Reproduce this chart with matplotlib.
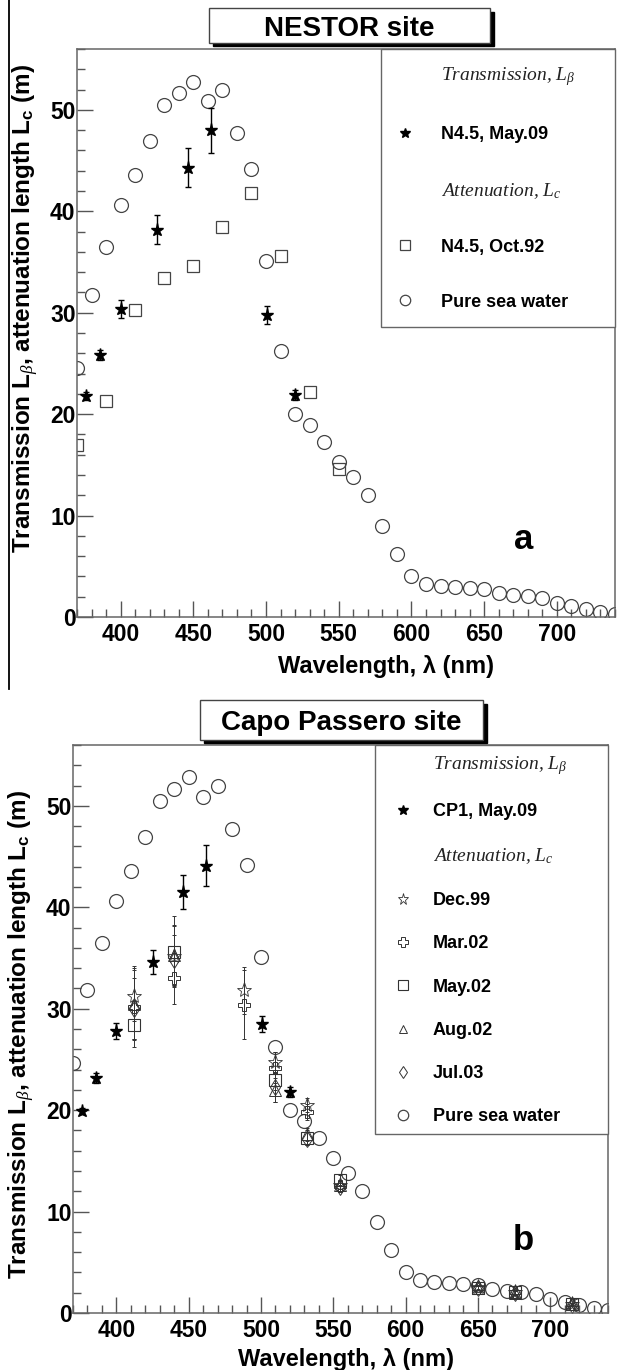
import matplotlib
matplotlib.use("Agg")
import matplotlib.pyplot as plt
from matplotlib.lines import Line2D
from matplotlib.patches import Rectangle
from matplotlib.ticker import MultipleLocator

plt.rcParams['font.family'] = ['Liberation Sans', 'DejaVu Sans']
plt.rcParams['font.weight'] = 'bold'
plt.rcParams['mathtext.fontset'] = 'custom'
plt.rcParams['mathtext.rm'] = 'Liberation Sans:bold'
plt.rcParams['mathtext.bf'] = 'Liberation Sans:bold'
plt.rcParams['mathtext.it'] = 'Liberation Serif:style=italic:weight=normal'

# pure sea water attenuation length
sea_wl = [370, 380, 390, 400, 410, 420, 430, 440, 450, 460, 470, 480, 490,
          500, 510, 520, 530, 540, 550, 560, 570, 580, 590, 600, 610, 620,
          630, 640, 650, 660, 670, 680, 690, 700, 710, 720, 730, 740]
sea_L = [24.6, 31.8, 36.5, 40.6, 43.6, 46.9, 50.5, 51.7, 52.8, 50.9, 52.0, 47.7, 44.2,
         35.1, 26.2, 20.0, 18.9, 17.3, 15.3, 13.8, 12.0, 9.0, 6.2, 4.0, 3.3, 3.1,
         3.0, 2.9, 2.8, 2.4, 2.2, 2.1, 1.9, 1.4, 1.1, 0.8, 0.5, 0.3]

# transmission length, LED wavelengths
trans_wl = [376, 386, 400, 425, 446, 462, 501, 520]
n45_L = [21.8, 25.8, 30.4, 38.2, 44.3, 48.0, 29.8, 21.9]
n45_err = [0.4, 0.5, 0.9, 1.4, 1.9, 2.2, 0.9, 0.5]
cp1_L = [19.9, 23.2, 27.8, 34.6, 41.5, 44.1, 28.5, 21.8]
cp1_err = [0.3, 0.5, 0.8, 1.2, 1.7, 2.0, 0.8, 0.5]

# NESTOR attenuation Oct.92
oct92_wl = [370, 390, 410, 430, 450, 470, 490, 510, 530, 550]
oct92_L = [17.0, 21.3, 30.3, 33.4, 34.6, 38.5, 41.8, 35.6, 22.2, 14.6]

# Capo Passero attenuation (AC9 wavelengths)
ac9_wl = [412, 440, 488, 510, 532, 555, 650, 676, 715]
ac9_wl_short = [412, 440, 510, 532, 555, 650, 676, 715]
dec99_L = [31.3, 35.2, 31.8, 24.7, 20.5, 12.6, 2.6, 2.1, 0.9]
dec99_err = [2.5, 3.0, 2.3, 1.0, 0.7, 0.4, 0.2, 0.2, 0.1]
mar02_L = [30.2, 33.0, 30.4, 24.2, 19.8, 12.5, 2.5, 2.1, 0.9]
mar02_err = [4.0, 2.5, 3.4, 1.5, 0.8, 0.5, 0.2, 0.2, 0.1]
may02_L = [28.4, 35.6, 23.0, 17.3, 13.1, 2.5, 2.1, 0.9]
may02_err = [1.5, 3.5, 1.0, 0.7, 0.5, 0.2, 0.2, 0.1]
aug02_L = [30.5, 35.3, 22.0, 17.6, 12.6, 2.5, 2.0, 0.9]
aug02_err = [3.5, 3.0, 1.2, 0.6, 0.4, 0.2, 0.2, 0.1]
jul03_L = [30.0, 34.8, 22.3, 17.2, 12.4, 2.5, 2.0, 0.8]
jul03_err = [3.0, 2.5, 1.5, 0.6, 0.4, 0.2, 0.2, 0.1]

xticks = [400, 450, 500, 550, 600, 650, 700]
yticks = [0, 10, 20, 30, 40, 50]

INK = '#333333'
FRAME = '#666666'

STAR = dict(marker='*', ms=9.5, color='black', mec='black')
CIRC = dict(marker='o', ms=10, mfc='none', mec='#444444', mew=0.9)
SQR = dict(marker='s', ms=9, mfc='none', mec='#444444', mew=0.9)
OSTAR = dict(marker='*', ms=11, mfc='none', mec=INK, mew=0.6)
OCROSS = dict(marker='P', ms=9, mfc='none', mec=INK, mew=0.7)
OSQR = dict(marker='s', ms=9, mfc='none', mec=INK, mew=0.8)
OTRI = dict(marker='^', ms=8, mfc='none', mec=INK, mew=0.7)
ODIA = dict(marker='d', ms=8, mfc='none', mec=INK, mew=0.7)

HEAD_T = r'Transmission, $\mathit{L_{\beta}}$'
HEAD_A = r'Attenuation, $\mathit{L_{c}}$'


def style_axes(ax):
    ax.set_xlim(370, 740)
    ax.set_ylim(0, 56)
    ax.set_xticks(xticks)
    ax.set_yticks(yticks)
    ax.xaxis.set_minor_locator(MultipleLocator(10))
    ax.yaxis.set_minor_locator(MultipleLocator(2))
    ax.tick_params(which='both', direction='in', color='#555555', width=1,
                   top=False, right=False)
    ax.tick_params(which='major', length=11.5, labelsize=16.5)
    ax.tick_params(which='minor', length=6)
    ax.tick_params(axis='y', pad=1)
    ax.tick_params(axis='x', pad=4)
    for s in ax.spines.values():
        s.set_color(FRAME)
        s.set_linewidth(1.1)


def add_title_box(ax, text, x0, x1, y0, y1):
    ax.add_patch(Rectangle((x0 + 0.007, y0 - 0.006), x1 - x0, y1 - y0,
                           transform=ax.transAxes, color='black',
                           clip_on=False, zorder=5))
    ax.add_patch(Rectangle((x0, y0), x1 - x0, y1 - y0, transform=ax.transAxes,
                           facecolor='white', edgecolor='#444444', lw=1,
                           clip_on=False, zorder=6))
    ax.text((x0 + x1) / 2, (y0 + y1) / 2, text, transform=ax.transAxes,
            ha='center', va='center_baseline', fontsize=20, fontweight='bold',
            zorder=7)


def add_legend(ax, entries, spacing, pad, hlen, tpad):
    handles = []
    labels = []
    for label, style in entries:
        if style is None:
            handles.append(Line2D([], [], linestyle='none', marker=''))
        else:
            handles.append(Line2D([], [], linestyle='none', **style))
        labels.append(label)
    leg = ax.legend(handles, labels, loc='upper left',
                    bbox_to_anchor=(0.565, 0, 0.435, 1), mode='expand',
                    borderaxespad=0, fancybox=False, framealpha=1,
                    edgecolor=FRAME, fontsize=13, labelspacing=spacing,
                    borderpad=pad, handlelength=hlen, handletextpad=tpad,
                    markerscale=0.75)
    leg.get_frame().set_linewidth(1.0)
    for t, (label, style) in zip(leg.get_texts(), entries):
        if style is None:
            t.set_color('#222222')
            t.set_fontsize(14)
            t.set_family('Liberation Serif')
            t.set_style('italic')
            t.set_weight('normal')


fig = plt.figure(figsize=(6.17, 13.7), dpi=100)

# left border line of the page
fig.add_artist(Line2D([0.0146, 0.0146], [0.497, 1.0], transform=fig.transFigure,
                      color='black', lw=1.3))

# ---------------- panel a : NESTOR ----------------
ax1 = fig.add_axes([0.1248, 0.5496, 0.8720, 0.4146])
style_axes(ax1)
ax1.plot(sea_wl, sea_L, linestyle='none', **CIRC)
ax1.plot(oct92_wl, oct92_L, linestyle='none', **SQR)
ax1.errorbar(trans_wl, n45_L, yerr=n45_err, fmt='none', ecolor='black',
             elinewidth=1, capsize=2)
ax1.plot(trans_wl, n45_L, linestyle='none', **STAR)

ax1.set_xlabel(r'Wavelength, λ (nm)', fontsize=17, fontweight='bold')
ax1.xaxis.set_label_coords(0.574, -0.067)
ax1.set_ylabel(r'Transmission L$_{\beta}$, attenuation length L$_{\mathrm{c}}$ (m)',
               fontsize=17.5, fontweight='bold')
ax1.yaxis.set_label_coords(-0.069, 0.544)
ax1.text(0.83, 0.137, 'a', transform=ax1.transAxes, fontsize=25,
         fontweight='bold', ha='center', va='center')
add_title_box(ax1, 'NESTOR site', 0.245, 0.768, 1.0106, 1.072)
add_legend(ax1, [(HEAD_T, None),
                 ('N4.5, May.09', STAR),
                 (HEAD_A, None),
                 ('N4.5, Oct.92', SQR),
                 ('Pure sea water', CIRC)],
           spacing=2.1, pad=0.9, hlen=0.9, tpad=1.55)

# ---------------- panel b : Capo Passero ----------------
ax2 = fig.add_axes([0.1183, 0.0416, 0.8671, 0.4146])
style_axes(ax2)
ax2.plot(sea_wl, sea_L, linestyle='none', **CIRC)
for wl, L, err, st in [(ac9_wl, dec99_L, dec99_err, OSTAR),
                       (ac9_wl, mar02_L, mar02_err, OCROSS),
                       (ac9_wl_short, may02_L, may02_err, OSQR),
                       (ac9_wl_short, aug02_L, aug02_err, OTRI),
                       (ac9_wl_short, jul03_L, jul03_err, ODIA)]:
    ax2.errorbar(wl, L, yerr=err, fmt='none', ecolor=INK, elinewidth=0.7,
                 capsize=1.5, capthick=0.7)
    ax2.plot(wl, L, linestyle='none', **st)
ax2.errorbar(trans_wl, cp1_L, yerr=cp1_err, fmt='none', ecolor='black',
             elinewidth=1, capsize=2)
ax2.plot(trans_wl, cp1_L, linestyle='none', **STAR)

ax2.set_xlabel(r'Wavelength, λ (nm)', fontsize=17, fontweight='bold')
ax2.xaxis.set_label_coords(0.51, -0.062)
ax2.set_ylabel(r'Transmission L$_{\beta}$, attenuation length L$_{\mathrm{c}}$ (m)',
               fontsize=17.5, fontweight='bold')
ax2.yaxis.set_label_coords(-0.069, 0.49)
ax2.text(0.841, 0.128, 'b', transform=ax2.transAxes, fontsize=25,
         fontweight='bold', ha='center', va='center')
add_title_box(ax2, 'Capo Passero site', 0.237, 0.766, 1.009, 1.079)
add_legend(ax2, [(HEAD_T, None),
                 ('CP1, May.09', STAR),
                 (HEAD_A, None),
                 ('Dec.99', OSTAR),
                 ('Mar.02', OCROSS),
                 ('May.02', OSQR),
                 ('Aug.02', OTRI),
                 ('Jul.03', ODIA),
                 ('Pure sea water', CIRC)],
           spacing=1.45, pad=0.5, hlen=2.1, tpad=0.6)

fig.savefig('out.png', dpi=100)
